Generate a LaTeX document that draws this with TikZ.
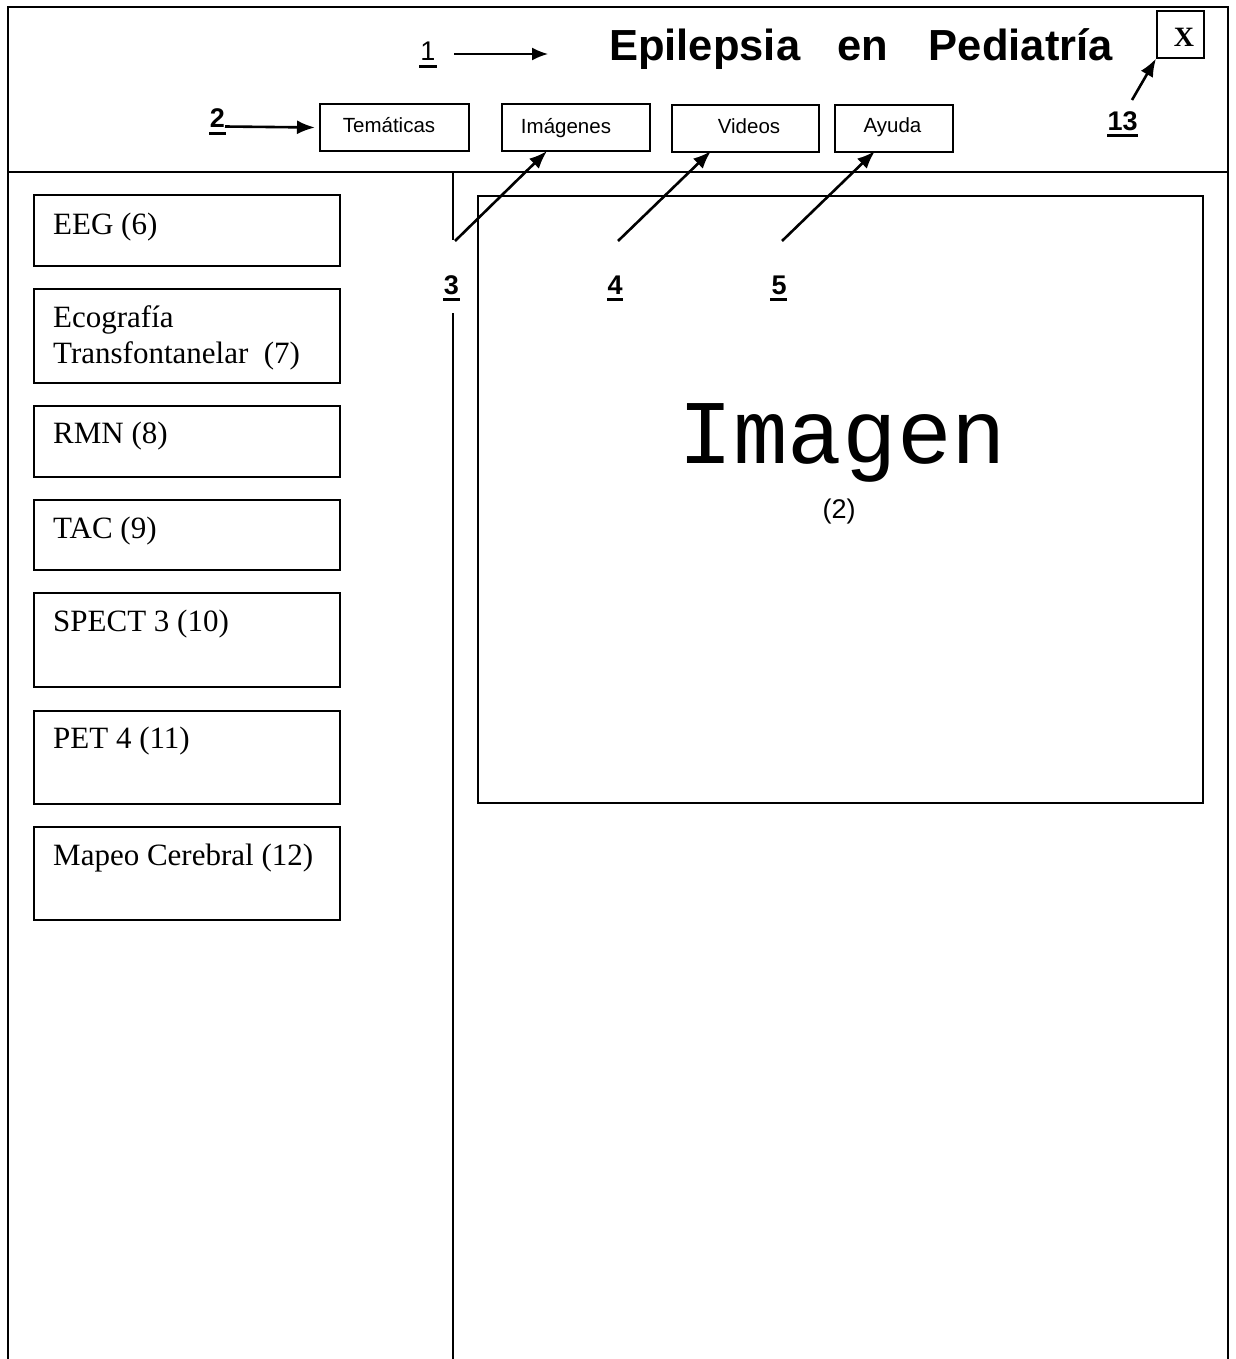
\documentclass[tikz,border=0pt]{standalone}
\usepackage{fontspec}
\setmainfont{Liberation Serif}
\setsansfont{Liberation Sans}
\setmonofont{Liberation Mono}
\usetikzlibrary{arrows.meta,calc}
\newcommand{\fsz}[1]{\fontsize{#1}{#1}\selectfont}

\begin{document}
\begin{tikzpicture}[x=1pt,y=-1pt,
  rule/.style={line width=2pt},
  thinrule/.style={line width=1.6pt},
  btn/.style={draw, line width=2pt, rectangle, inner sep=0pt, anchor=north west, minimum height=47pt},
  item/.style={draw, line width=2pt, rectangle, inner sep=0pt, anchor=north west, minimum width=306pt},
  itemtext/.style={anchor=base west, inner sep=0pt, font=\fsz{31}},
  btntext/.style={anchor=base, inner sep=0pt, font=\sffamily\fsz{20.5}},
  num/.style={anchor=base, inner sep=0pt, font=\sffamily\bfseries\fsz{27}},
  uline/.style={line width=3pt},
  arr/.style={line width=2.6pt, -{Latex[length=18pt,width=14pt]}},
  thinarr/.style={line width=1.8pt, -{Latex[length=16pt,width=13pt]}}]

\useasboundingbox (0,0) rectangle (1235,1359);

% window frame, header rule and column divider
\draw[rule] (8,1359) -- (8,7) -- (1228,7) -- (1228,1359);
\draw[rule] (8,172) -- (1228,172);
\draw[thinrule] (453,172) -- (453,240);
\draw[thinrule] (453,313) -- (453,1359);

% title and close button
\node[anchor=base west, inner sep=0pt, font=\sffamily\bfseries\fsz{43.5}] (title) at (609,61)
  {Epilepsia\hspace{37pt}en\hspace{41pt}Pediatría};
\node[draw, line width=1.6pt, anchor=north west, minimum width=47pt, minimum height=47pt, inner sep=0pt] (close) at (1156,10) {};
\node[anchor=base, inner sep=0pt, font=\bfseries\fsz{28}] (closex) at (1184,47) {X};

% menu buttons
\node[btn, minimum width=149pt] (btem) at (319,103) {};
\node[btn, minimum width=148pt] (bimg) at (501,103) {};
\node[btn, minimum width=147pt] (bvid) at (671,104) {};
\node[btn, minimum width=118pt] (bayu) at (834,104) {};
\node[btntext] (ttem) at (389,133) {Temáticas};
\node[btntext] (timg) at (566,134) {Imágenes};
\node[btntext] (tvid) at (749,134) {Videos};
\node[btntext] (tayu) at (892.5,133) {Ayuda};

% image viewer
\node[draw, line width=1.8pt, rectangle, inner sep=0pt, anchor=north west,
      minimum width=725pt, minimum height=607pt] (view) at (477,195) {};
\node[anchor=base, inner sep=0pt, font=\ttfamily\fsz{91}] (vtitle) at (842.5,463) {Imagen};
\node[anchor=base, inner sep=0pt, font=\sffamily\fsz{27}] (vnum) at (839,518) {(2)};

% study list
\node[item, minimum height=71pt] (eeg) at (33,194) {};
\node[item, minimum height=94pt] (eco) at (33,288) {};
\node[item, minimum height=71pt] (rmn) at (33,405) {};
\node[item, minimum height=70pt] (tac) at (33,499) {};
\node[item, minimum height=94pt] (spect) at (33,592) {};
\node[item, minimum height=93pt] (pet) at (33,710) {};
\node[item, minimum height=93pt] (mapeo) at (33,826) {};
\node[itemtext] (teeg) at (53,234) {EEG (6)};
\node[itemtext] (teco1) at (53,327) {Ecografía};
\node[itemtext] (teco2) at (53,363) {Transfontanelar\ \ (7)};
\node[itemtext] (trmn) at (53,443) {RMN (8)};
\node[itemtext] (ttac) at (53,538) {TAC (9)};
\node[itemtext] (tspect) at (53,631) {SPECT 3 (10)};
\node[itemtext] (tpet) at (53,748) {PET 4 (11)};
\node[itemtext] (tmapeo) at (53,865) {Mapeo Cerebral (12)};

% callout numbers
\node[anchor=base, inner sep=0pt, font=\sffamily\fsz{27}] (n1) at (428,61) {1};
\node[num] (n2) at (217.5,128) {2};
\node[num] (n3) at (451.5,294) {3};
\node[num] (n4) at (615,294) {4};
\node[num] (n5) at (779,294) {5};
\node[num] (n13) at (1122.5,131) {13};
\draw[uline] (419,67) -- (437,67);
\draw[uline] (209,134) -- (226,134);
\draw[uline] (443,299) -- (460,299);
\draw[uline] (607,299) -- (623,299);
\draw[uline] (770,299) -- (787,299);
\draw[uline] (1107,136) -- (1138,136);

% callout arrows
\coordinate (a1s) at (454,54);
\coordinate (a1e) at (548,54);
\coordinate (a2s) at (225,126.5);
\coordinate (a3s) at (455,241);
\coordinate (a4s) at (618,241);
\coordinate (a5s) at (782,241);
\coordinate (a13s) at (1132,100);
\draw[thinarr] (a1s) -- (a1e);
\draw[arr] (a2s) -- ([xshift=-4pt]btem.west);
\draw[arr] (a3s) -- ([xshift=46pt,yshift=1pt]bimg.south west);
\draw[arr] (a4s) -- ([xshift=40pt,yshift=2pt]bvid.south west);
\draw[arr] (a5s) -- ([xshift=41pt,yshift=2pt]bayu.south west);
\draw[arr] (a13s) -- (close.south west);

\end{tikzpicture}
\end{document}
